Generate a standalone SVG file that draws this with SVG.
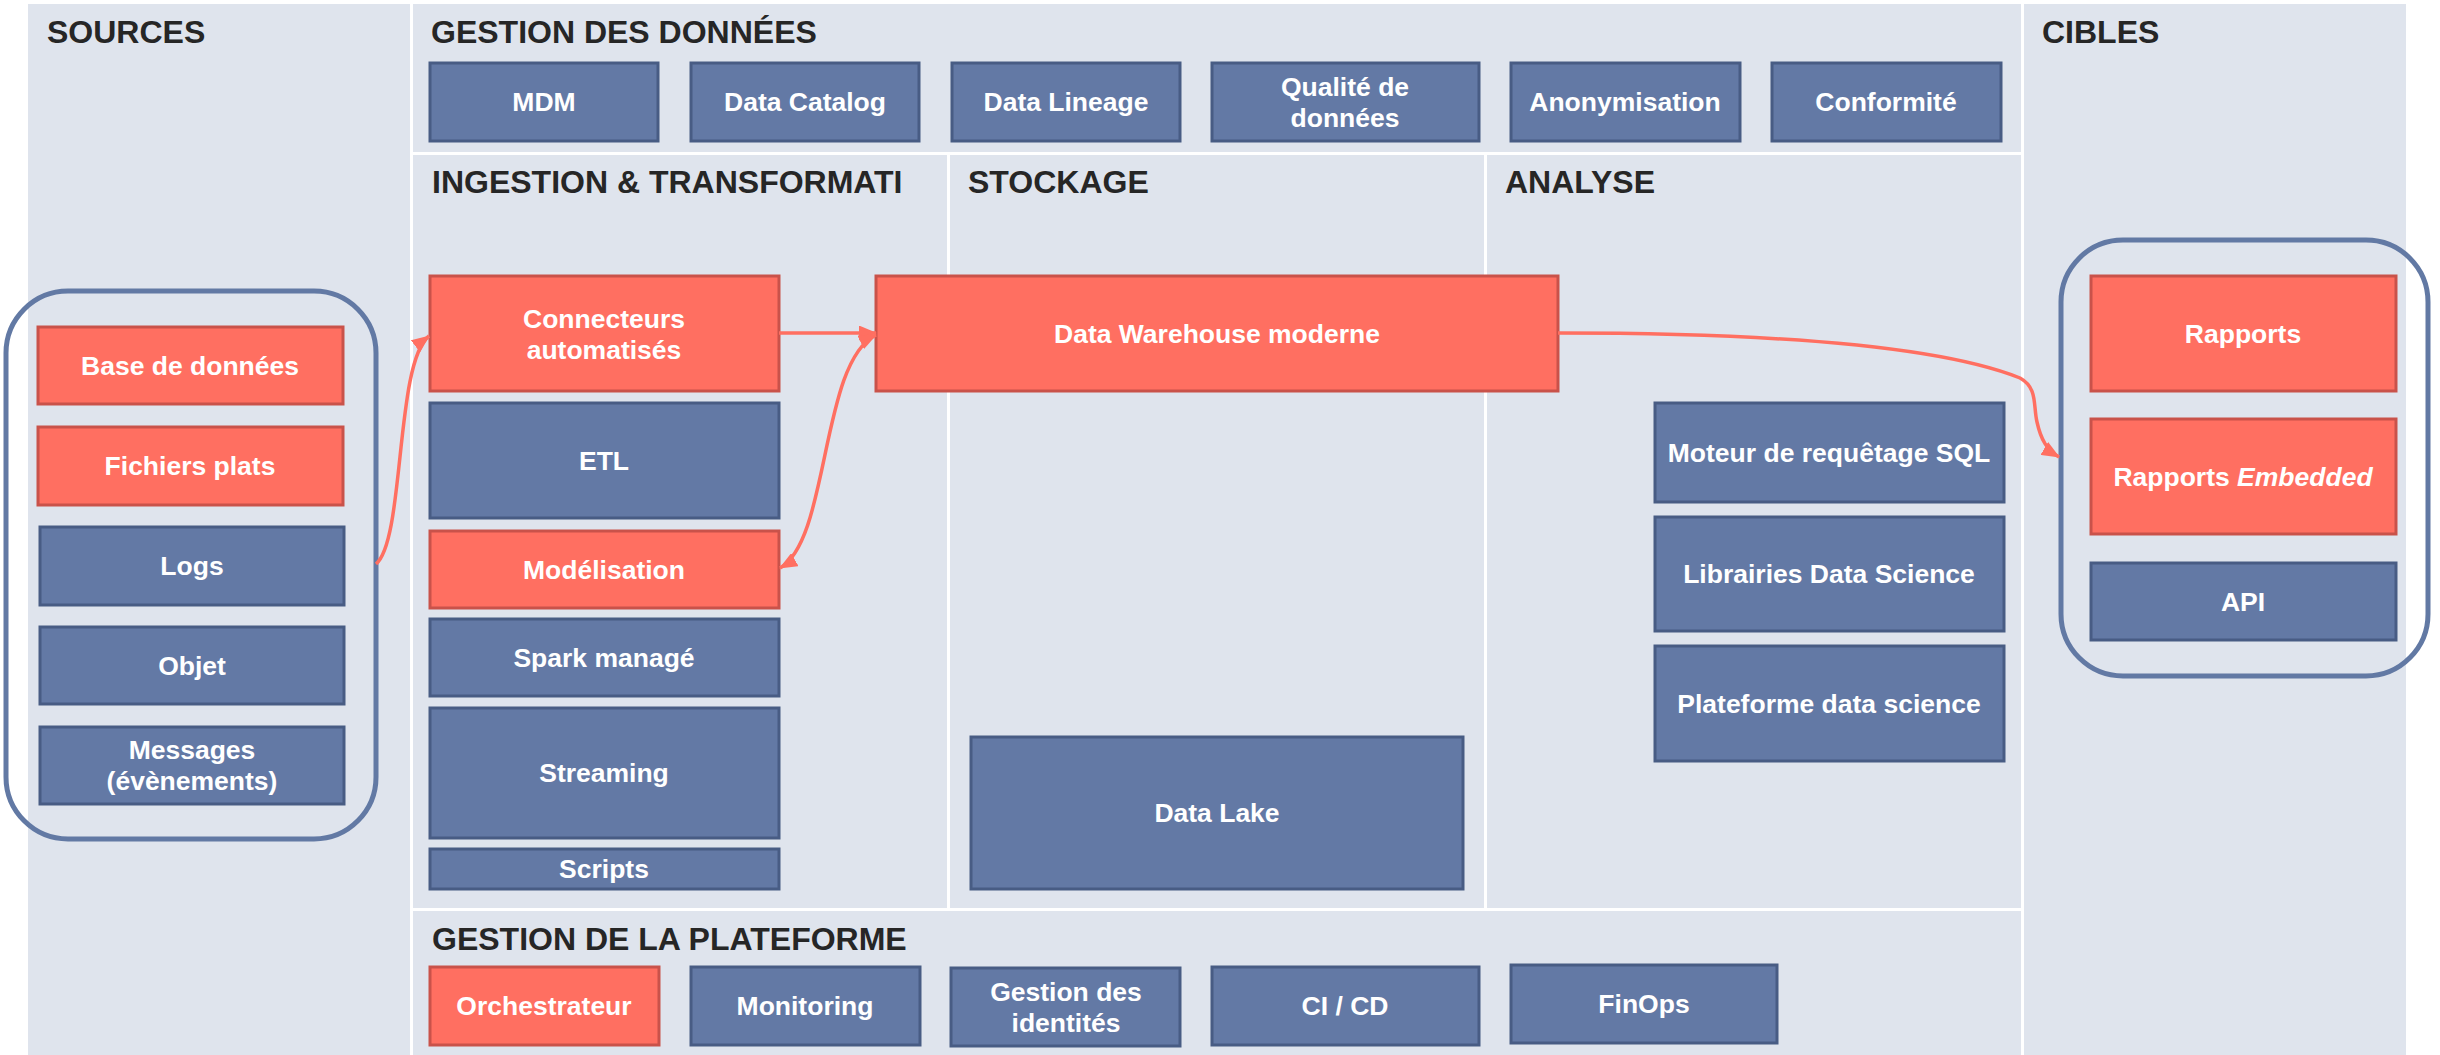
<svg xmlns="http://www.w3.org/2000/svg" width="2440" height="1055" viewBox="0 0 2440 1055">
<style>
.panel{fill:#DFE4ED}
.hdr{font-family:"Liberation Sans",Arial,sans-serif;font-weight:bold;font-size:32px;fill:#262626}
.nb rect{fill:#6379A5;stroke:#485C84;stroke-width:3}
.nr rect{fill:#FF6F61;stroke:#C9524A;stroke-width:3}
.nb text,.nr text{font-family:"Liberation Sans",Arial,sans-serif;font-weight:bold;font-size:26.5px;fill:#FFFFFF;text-anchor:middle}
.grp{fill:none;stroke:#6279A4;stroke-width:5}
.conn{fill:none;stroke:#FF6F61;stroke-width:3.5}
</style>
<defs>
<marker id="ah" viewBox="0 0 18 15" refX="17" refY="7.5" markerWidth="18" markerHeight="15" markerUnits="userSpaceOnUse" orient="auto-start-reverse">
<path d="M0,0 L18,7.5 L0,15 z" fill="#FF6F61"/>
</marker>
</defs>
<rect width="2440" height="1055" fill="#FFFFFF"/>
<g id="panels">
<rect class="panel" x="28" y="4" width="382" height="1051"/>
<rect class="panel" x="413" y="4" width="1608" height="148"/>
<rect class="panel" x="413" y="155" width="534" height="753"/>
<rect class="panel" x="950" y="155" width="534" height="753"/>
<rect class="panel" x="1487" y="155" width="534" height="753"/>
<rect class="panel" x="413" y="911" width="1608" height="144"/>
<rect class="panel" x="2024" y="4" width="382" height="1051"/>
<text class="hdr" x="47" y="43">SOURCES</text>
<text class="hdr" x="431" y="43">GESTION DES DONNÉES</text>
<text class="hdr" x="2042" y="43">CIBLES</text>
<text class="hdr" x="432" y="193">INGESTION &amp; TRANSFORMATI</text>
<text class="hdr" x="968" y="193">STOCKAGE</text>
<text class="hdr" x="1505" y="193">ANALYSE</text>
<text class="hdr" x="432" y="950">GESTION DE LA PLATEFORME</text>
</g>
<g id="groups">
<rect id="sources-group" class="grp" x="6" y="291" width="370" height="548" rx="62"/>
<rect id="cibles-group" class="grp" x="2061" y="240" width="367" height="436" rx="62"/>
</g>
<g id="n-base" class="nr"><rect x="38" y="327" width="305" height="77"/><text x="190" y="375">Base de données</text></g>
<g id="n-fichiers" class="nr"><rect x="38" y="427" width="305" height="78"/><text x="190" y="475">Fichiers plats</text></g>
<g id="n-logs" class="nb"><rect x="40" y="527" width="304" height="78"/><text x="192" y="575">Logs</text></g>
<g id="n-objet" class="nb"><rect x="40" y="627" width="304" height="77"/><text x="192" y="675">Objet</text></g>
<g id="n-messages" class="nb"><rect x="40" y="727" width="304" height="77"/><text x="192" y="759">Messages</text><text x="192" y="790">(évènements)</text></g>
<g id="n-mdm" class="nb"><rect x="430" y="63" width="228" height="78"/><text x="544" y="111">MDM</text></g>
<g id="n-catalog" class="nb"><rect x="691" y="63" width="228" height="78"/><text x="805" y="111">Data Catalog</text></g>
<g id="n-lineage" class="nb"><rect x="952" y="63" width="228" height="78"/><text x="1066" y="111">Data Lineage</text></g>
<g id="n-qualite" class="nb"><rect x="1212" y="63" width="267" height="78"/><text x="1345" y="96">Qualité de</text><text x="1345" y="127">données</text></g>
<g id="n-anonym" class="nb"><rect x="1511" y="63" width="229" height="78"/><text x="1625" y="111">Anonymisation</text></g>
<g id="n-conform" class="nb"><rect x="1772" y="63" width="229" height="78"/><text x="1886" y="111">Conformité</text></g>
<g id="n-connecteurs" class="nr"><rect x="430" y="276" width="349" height="115"/><text x="604" y="328">Connecteurs</text><text x="604" y="359">automatisés</text></g>
<g id="n-etl" class="nb"><rect x="430" y="403" width="349" height="115"/><text x="604" y="470">ETL</text></g>
<g id="n-modelisation" class="nr"><rect x="430" y="531" width="349" height="77"/><text x="604" y="579">Modélisation</text></g>
<g id="n-spark" class="nb"><rect x="430" y="619" width="349" height="77"/><text x="604" y="667">Spark managé</text></g>
<g id="n-streaming" class="nb"><rect x="430" y="708" width="349" height="130"/><text x="604" y="782">Streaming</text></g>
<g id="n-scripts" class="nb"><rect x="430" y="849" width="349" height="40"/><text x="604" y="878">Scripts</text></g>
<g id="n-dw" class="nr"><rect x="876" y="276" width="682" height="115"/><text x="1217" y="343">Data Warehouse moderne</text></g>
<g id="n-lake" class="nb"><rect x="971" y="737" width="492" height="152"/><text x="1217" y="822">Data Lake</text></g>
<g id="n-moteur" class="nb"><rect x="1655" y="403" width="349" height="99"/><text x="1829" y="462">Moteur de requêtage SQL</text></g>
<g id="n-librairies" class="nb"><rect x="1655" y="517" width="349" height="114"/><text x="1829" y="583">Librairies Data Science</text></g>
<g id="n-plateforme" class="nb"><rect x="1655" y="646" width="349" height="115"/><text x="1829" y="713">Plateforme data science</text></g>
<g id="n-rapports" class="nr"><rect x="2091" y="276" width="305" height="115"/><text x="2243" y="343">Rapports</text></g>
<g id="n-embedded" class="nr"><rect x="2091" y="419" width="305" height="115"/><text x="2243" y="486">Rapports <tspan font-style="italic">Embedded</tspan></text></g>
<g id="n-api" class="nb"><rect x="2091" y="563" width="305" height="77"/><text x="2243" y="611">API</text></g>
<g id="n-orchestrateur" class="nr"><rect x="430" y="967" width="229" height="78"/><text x="544" y="1015">Orchestrateur</text></g>
<g id="n-monitoring" class="nb"><rect x="691" y="967" width="229" height="78"/><text x="805" y="1015">Monitoring</text></g>
<g id="n-identites" class="nb"><rect x="951" y="968" width="229" height="78"/><text x="1066" y="1001">Gestion des</text><text x="1066" y="1032">identités</text></g>
<g id="n-cicd" class="nb"><rect x="1212" y="967" width="267" height="78"/><text x="1345" y="1015">CI / CD</text></g>
<g id="n-finops" class="nb"><rect x="1511" y="965" width="266" height="78"/><text x="1644" y="1013">FinOps</text></g>
<g id="connectors">
<path class="conn" d="M376 564 C405 540, 395 362, 429 336" marker-end="url(#ah)"/>
<path class="conn" d="M779 333 L876 333" marker-end="url(#ah)"/>
<path class="conn" d="M780 568 C830 540, 820 362, 876 335" marker-start="url(#ah)" marker-end="url(#ah)"/>
<path class="conn" d="M1558 333 C1800 333, 1950 350, 2020 378 C2038 388, 2033 405, 2037 422 C2041 440, 2047 450, 2059 457" marker-end="url(#ah)"/>
</g>
</svg>
